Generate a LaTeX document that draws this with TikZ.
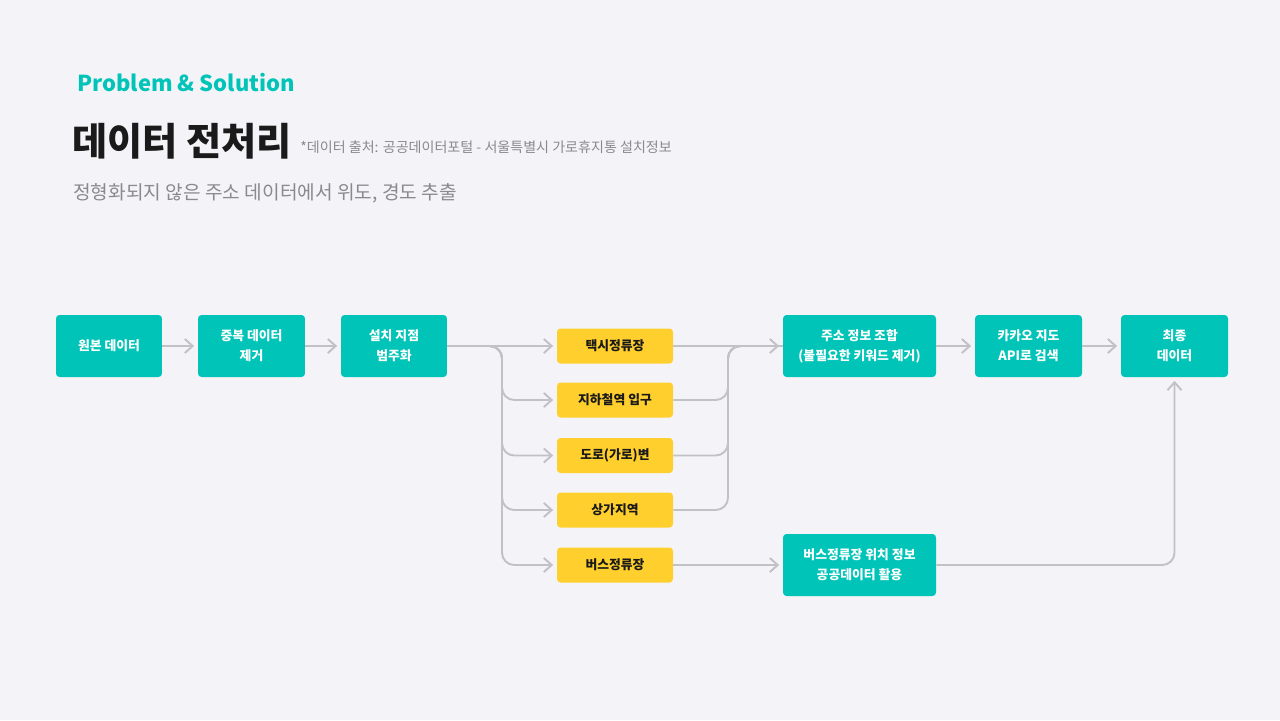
\documentclass[tikz,border=0pt]{standalone}
\usepackage{fontspec}
\setmainfont{Noto Sans CJK KR}
\newfontfamily\krfont{Noto Sans CJK KR}
\usetikzlibrary{arrows.meta}
\definecolor{bgc}{HTML}{F4F4F8}
\definecolor{tealc}{HTML}{00C4B8}
\definecolor{yelc}{HTML}{FFD02D}
\definecolor{linec}{HTML}{C2C2C6}
\definecolor{titlec}{HTML}{1A1A1A}
\definecolor{greyc}{HTML}{8A8A8E}
\def\u{0.569055pt}
\tikzset{
  x=0.02cm, y=-0.02cm,
  tealbox/.style={fill=tealc, rounded corners=2pt, text=white, font=\krfont\fontsize{7.3}{11.4}\selectfont\bfseries, align=center, minimum height=62*\u, inner sep=0pt},
  yelbox/.style={fill=yelc, rounded corners=2pt, text=titlec, font=\krfont\fontsize{7.3}{11}\selectfont\bfseries, align=center, minimum width=116*\u, minimum height=35*\u, inner sep=0pt},
  conn/.style={draw=linec, line width=1.1pt, rounded corners=7pt},
  arr/.style={-{Straight Barb[length=4.5pt, width=8pt, line width=1.1pt]}, shorten >=2pt},
}
\begin{document}
\begin{tikzpicture}
\fill[bgc] (0,0) rectangle (1280,720);
\useasboundingbox (0,0) rectangle (1280,720);

% header
\node[anchor=base west, inner sep=0pt, text=tealc, font=\krfont\fontsize{12.5}{14}\selectfont\bfseries] (ps) at (77,91) {Problem \& Solution};
\node[anchor=base west, inner sep=0pt, text=titlec, font=\krfont\fontsize{21.7}{24}\selectfont\bfseries] (title) at (72,155) {데이터 전처리};
\node[anchor=base west, inner sep=0pt, text=greyc, font=\krfont\fontsize{8}{9}\selectfont] (note) at (300,152) {*데이터 출처: 공공데이터포털 - 서울특별시 가로휴지통 설치정보};
\node[anchor=base west, inner sep=0pt, text=greyc, font=\krfont\fontsize{10.9}{12}\selectfont] (sub) at (73,199) {정형화되지 않은 주소 데이터에서 위도, 경도 추출};

% main row
\node[tealbox, minimum width=106*\u] (raw) at (109,346) {원본 데이터};
\node[tealbox, minimum width=107*\u] (dup) at (251.5,346) {중복 데이터\\제거};
\node[tealbox, minimum width=106*\u] (cat) at (394,346) {설치 지점\\범주화};

\node[yelbox] (y1) at (615,346) {택시정류장};
\node[yelbox] (y2) at (615,400) {지하철역 입구};
\node[yelbox] (y3) at (615,455.5) {도로(가로)변};
\node[yelbox] (y4) at (615,510) {상가지역};
\node[yelbox] (y5) at (615,565) {버스정류장};

\node[tealbox, minimum width=153*\u] (addr) at (859.5,346) {주소 정보 조합\\(불필요한 키워드 제거)};
\node[tealbox, minimum width=107*\u] (kakao) at (1028.5,346) {카카오 지도\\API로 검색};
\node[tealbox, minimum width=107*\u] (final) at (1174.5,346) {최종\\데이터};
\node[tealbox, minimum width=153*\u] (bus) at (859.5,565) {버스정류장 위치 정보\\공공데이터 활용};

\coordinate (fork) at (502,346);
\coordinate (merge) at (728,346);

% connectors
\draw[conn, arr] (raw.east) -- (dup.west);
\draw[conn, arr] (dup.east) -- (cat.west);
\draw[conn, arr] (cat.east) -- (y1.west);
\draw[conn, arr] (cat.east) -- (fork) |- (y2.west);
\draw[conn, arr] (cat.east) -- (fork) |- (y3.west);
\draw[conn, arr] (cat.east) -- (fork) |- (y4.west);
\draw[conn, arr] (cat.east) -- (fork) |- (y5.west);

\draw[conn, arr] (y1.east) -- (addr.west);
\draw[conn] (y2.east) -| (merge) -- (addr.west);
\draw[conn] (y3.east) -| (merge) -- (addr.west);
\draw[conn] (y4.east) -| (merge) -- (addr.west);

\draw[conn, arr] (y5.east) -- (bus.west);
\draw[conn, arr] (addr.east) -- (kakao.west);
\draw[conn, arr] (kakao.east) -- (final.west);
\draw[conn, arr] (bus.east) -| (final.south);
\end{tikzpicture}
\end{document}
